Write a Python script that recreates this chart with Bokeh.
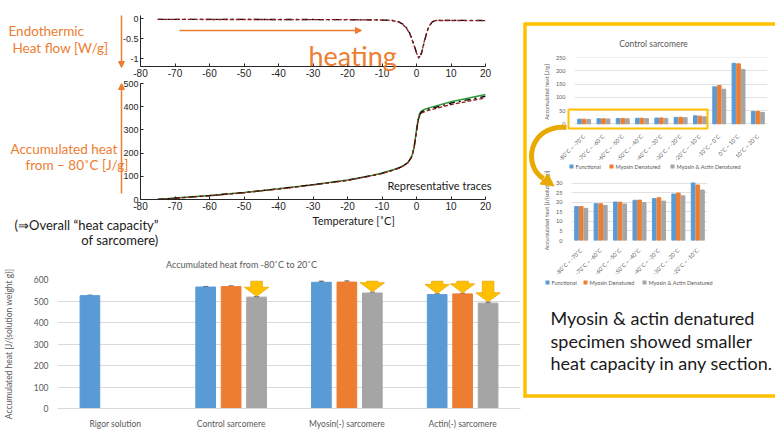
import math
from bokeh.plotting import figure
from bokeh.models import (Range1d, FixedTicker, Arrow, NormalHead, ColumnDataSource,
                          Whisker, TeeHead, GridBox)
from bokeh.core.properties import value
from bokeh.embed import file_html
from bokeh.resources import INLINE

# ---------------- data ----------------
temp_ticks = [-80, -70, -60, -50, -40, -30, -20, -10, 0, 10, 20]
hf_ticks = [-1, -0.5, 0]
hf_tick_labels = ["-1", "-0.5", "0"]
acc_ticks = [0, 100, 200, 300, 400, 500]

hf_temp = [-75, -60, -45, -30, -20, -12, -9, -7, -5, -4, -3, -2, -1, 0, 0.7, 1.5, 2.5, 3.5, 4.5, 5.5, 7, 12, 20]
hf_black = [-0.02, -0.02, -0.025, -0.025, -0.03, -0.035, -0.04, -0.05, -0.09, -0.14, -0.22, -0.36, -0.58,
            -0.85, -1.0, -0.86, -0.5, -0.22, -0.09, -0.05, -0.045, -0.045, -0.05]
hf_red = [-0.02, -0.025, -0.025, -0.03, -0.03, -0.035, -0.04, -0.05, -0.09, -0.15, -0.23, -0.37, -0.6,
          -0.86, -0.99, -0.84, -0.48, -0.21, -0.09, -0.05, -0.05, -0.05, -0.055]

acc_temp = [-75, -70, -60, -50, -40, -30, -20, -13, -10, -7, -5, -3.6, -2.5, -1.7, -1.2, -0.7, 0,
            0.4, 0.8, 1.2, 1.7, 2.5, 3.6, 10, 20]
acc_green = [0, 6, 17, 30, 46, 64, 84, 104, 114, 127, 137, 148, 160, 177, 195, 226, 300,
             340, 366, 378, 384, 389, 395, 421, 453]
acc_black = [0, 6, 17, 30, 46, 64, 83, 103, 113, 126, 136, 147, 159, 176, 193, 223, 296,
             336, 361, 373, 379, 384, 390, 415, 445]
acc_red = [0, 5, 16, 29, 45, 63, 82, 102, 112, 125, 135, 146, 158, 175, 191, 220, 292,
           331, 356, 368, 374, 379, 385, 409, 438]

groups = ["Rigor solution", "Control sarcomere", "Myosin(-) sarcomere", "Actin(-) sarcomere"]
series_names = ["Functional", "Myosin Denatured", "Myosin & Actin Denatured"]
acc_functional = [525, 565, 587, 530]
acc_myosin_den = [None, 567, 588, 533]
acc_both_den = [None, 518, 537, 490]
err_functional = [2, 2, 5, 3]
err_myosin_den = [None, 3, 5, 3]
err_both_den = [None, 2, 4, 4]
decreased = [(1, 2), (2, 2), (3, 0), (3, 1), (3, 2)]
bar_ticks = [0, 100, 200, 300, 400, 500, 600]

sections = ["-80˚C ~ -70˚C", "-70˚C ~ -60˚C", "-60˚C ~ -50˚C", "-50˚C ~ -40˚C", "-40˚C ~ -30˚C",
            "-30˚C ~ -20˚C", "-20˚C ~ -10˚C", "-10˚C ~ 0˚C", "0˚C ~ 10˚C", "10˚C ~ 20˚C"]
sec_functional = [17.8, 19.3, 20.2, 21.1, 22.0, 24.4, 30.2, 140, 229, 47]
sec_myosin_den = [17.8, 19.3, 20.1, 21.2, 22.5, 24.9, 29.1, 145, 227, 47]
sec_both_den = [16.9, 18.4, 19.2, 19.9, 20.7, 23.5, 26.5, 131, 206, 43.5]
sec_ticks = [0, 50, 100, 150, 200, 250]
zoom_ticks = [0, 5, 10, 15, 20, 25, 30]
n_zoom = 7

# ---------------- style ----------------
ORANGE_T = "#ED7D31"
BLUE, ORANGE, GRAY = "#5B9BD5", "#ED7D31", "#A5A5A5"
GOLD, GOLD_D = "#FFC000", "#E8A900"
TXT, GRID = "#595959", "#D9D9D9"
INK = "#1A1A1A"
LATO, ARIAL = "Lato", "Liberation Sans"


def chart(box, frame, xr, yr):
    """box/frame are (x0, y0, x1, y1) in page pixels; borders derived from them."""
    bx0, by0, bx1, by1 = box
    fx0, fy0, fx1, fy1 = frame
    p = figure(width=bx1 - bx0, height=by1 - by0, x_range=Range1d(*xr), y_range=Range1d(*yr),
               min_border_left=fx0 - bx0, min_border_right=bx1 - fx1,
               min_border_top=fy0 - by0, min_border_bottom=by1 - fy1,
               output_backend="svg", toolbar_location=None,
               background_fill_color=None, border_fill_color=None)
    p.outline_line_color = None
    return p


def matlab(p, yt, ylabels):
    p.grid.grid_line_color = None
    for ax in (p.xaxis, p.yaxis):
        ax.major_tick_in = 3
        ax.major_tick_out = 0
        ax.minor_tick_line_color = None
        ax.axis_line_color = "#262626"
        ax.major_tick_line_color = "#262626"
        ax.major_label_text_font = ARIAL
        ax.major_label_text_color = "#262626"
        ax.major_label_standoff = 2
    p.xaxis.major_label_text_font_size = "10px"
    p.yaxis.major_label_text_font_size = "9px"
    p.xaxis.ticker = FixedTicker(ticks=temp_ticks)
    p.xaxis.major_label_overrides = {t: str(t) for t in temp_ticks}
    p.yaxis.ticker = FixedTicker(ticks=yt)
    p.yaxis.major_label_overrides = dict(zip(yt, ylabels))


# ---------------- heat flow (top) ----------------
BOX_A, FRAME_A = (100, 0, 515, 82), (140, 15, 485, 66)
pA = chart(BOX_A, FRAME_A, (-80, 20), (-1.2, 0.075))
matlab(pA, hf_ticks, hf_tick_labels)
pA.line(hf_temp, hf_black, line_color="black", line_width=1.3, line_dash="dashdot")
pA.line(hf_temp, hf_red, line_color="#8B1A1A", line_width=1.3, line_dash="4 2")

# ---------------- accumulated heat (middle) ----------------
BOX_B, FRAME_B = (100, 74, 515, 215), (140, 83, 485, 199)
pB = chart(BOX_B, FRAME_B, (-80, 20), (0, 500))
matlab(pB, acc_ticks, [str(t) for t in acc_ticks])
pB.line(acc_temp, acc_green, line_color="#2E9B3A", line_width=1.5)
pB.line(acc_temp, acc_black, line_color="black", line_width=1.3, line_dash="dashdot")
pB.line(acc_temp, acc_red, line_color="#8B1A1A", line_width=1.3, line_dash="4 2")

# ---------------- bar chart (bottom left) ----------------
BOX_C, FRAME_C = (0, 250, 522, 434), (45, 279, 520, 408)
pC = chart(BOX_C, FRAME_C, (-0.5, 3.5), (0, 600))
offsets = [-0.22, 0.0, 0.22]
series_vals = [acc_functional, acc_myosin_den, acc_both_den]
series_errs = [err_functional, err_myosin_den, err_both_den]
colors = [BLUE, ORANGE, GRAY]
for k in range(3):
    xs = [i + offsets[k] for i, v in enumerate(series_vals[k]) if v is not None]
    ys = [v for v in series_vals[k] if v is not None]
    es = [e for e in series_errs[k] if e is not None]
    pC.vbar(x=xs, top=ys, width=0.17, color=colors[k])
    src = ColumnDataSource(dict(x=xs, up=[y + e for y, e in zip(ys, es)], lo=[y - e for y, e in zip(ys, es)]))
    pC.add_layout(Whisker(source=src, base="x", upper="up", lower="lo", line_color="#404040", line_width=1,
                          upper_head=TeeHead(size=5, line_color="#404040", line_width=1),
                          lower_head=TeeHead(size=5, line_color="#404040", line_width=1)))
ARROW_TOP, HEAD_H, SHAFT_HW, HEAD_HW = 592, 42, 0.05, 0.105
axs, ays = [], []
for gi, si in decreased:
    cx = gi + offsets[si]
    tip = series_vals[si][gi] + series_errs[si][gi] + 2
    hb = tip + HEAD_H
    axs.append([cx - SHAFT_HW, cx + SHAFT_HW, cx + SHAFT_HW, cx + HEAD_HW, cx, cx - HEAD_HW, cx - SHAFT_HW])
    ays.append([ARROW_TOP, ARROW_TOP, hb, hb, tip, hb, hb])
pC.patches(axs, ays, fill_color=GOLD, line_color=GOLD_D, line_width=0.8)
pC.xgrid.grid_line_color = None
pC.ygrid.grid_line_color = GRID
pC.yaxis.ticker = FixedTicker(ticks=bar_ticks)
pC.xaxis.ticker = FixedTicker(ticks=list(range(len(groups))))
pC.xaxis.major_label_overrides = {i: g for i, g in enumerate(groups)}
for ax in (pC.xaxis, pC.yaxis):
    ax.major_tick_line_color = None
    ax.minor_tick_line_color = None
    ax.major_label_text_font = LATO
    ax.major_label_text_font_size = "8.5px"
    ax.major_label_text_color = TXT
pC.yaxis.axis_line_color = None
pC.xaxis.axis_line_color = GRID
pC.yaxis.major_label_standoff = 3
pC.xaxis.major_label_standoff = 4
pC.yaxis.axis_label = "Accumulated heat [J/(solution weight g)]"
pC.yaxis.axis_label_text_font = LATO
pC.yaxis.axis_label_text_font_size = "8.5px"
pC.yaxis.axis_label_text_font_style = "normal"
pC.yaxis.axis_label_text_color = TXT
pC.yaxis.axis_label_standoff = 17


# ---------------- right panel charts ----------------
def small_chart(p, cats, vals, yticks, ylabel):
    offs = [-0.24, 0.0, 0.24]
    for k in range(3):
        xs = [i + offs[k] for i in range(len(cats))]
        p.vbar(x=xs, top=vals[k], width=0.19, color=colors[k])
    p.xgrid.grid_line_color = None
    p.ygrid.grid_line_color = GRID
    p.ygrid.grid_line_width = 0.8
    p.yaxis.ticker = FixedTicker(ticks=yticks)
    p.xaxis.ticker = FixedTicker(ticks=list(range(len(cats))))
    p.xaxis.major_label_overrides = {i: c for i, c in enumerate(cats)}
    p.xaxis.major_label_orientation = math.pi / 4
    for ax in (p.xaxis, p.yaxis):
        ax.axis_line_color = None
        ax.major_tick_line_color = None
        ax.minor_tick_line_color = None
        ax.major_label_text_font = LATO
        ax.major_label_text_font_size = "5.5px"
        ax.major_label_text_color = TXT
        ax.major_label_standoff = 3
    p.yaxis.axis_label = ylabel
    p.yaxis.axis_label_text_font = LATO
    p.yaxis.axis_label_text_font_size = "5.5px"
    p.yaxis.axis_label_text_font_style = "normal"
    p.yaxis.axis_label_text_color = TXT
    p.yaxis.axis_label_standoff = 3


BOX_R1, FRAME_R1 = (540, 50, 768, 175), (567, 57, 767, 126)
pR1 = chart(BOX_R1, FRAME_R1, (-0.5, 9.5), (-10, 251))
small_chart(pR1, sections, [sec_functional, sec_myosin_den, sec_both_den], sec_ticks, "Accumulated heat [J/g]")

BOX_R2, FRAME_R2 = (541, 158, 767, 292), (567, 180, 707, 240)
pR2 = chart(BOX_R2, FRAME_R2, (-0.5, 6.5), (0, 31.5))
small_chart(pR2, sections[:n_zoom],
            [sec_functional[:n_zoom], sec_myosin_den[:n_zoom], sec_both_den[:n_zoom]], zoom_ticks,
            "Accumulated heat [J/(solution g)]")

# ---------------- transparent overlay in page pixels (texts, arrows, frames) ----------------
BOX_OV = (1, 1, 775, 433)
ov = figure(width=BOX_OV[2] - BOX_OV[0], height=BOX_OV[3] - BOX_OV[1],
            x_range=Range1d(BOX_OV[0], BOX_OV[2]), y_range=Range1d(BOX_OV[3], BOX_OV[1]),
            min_border=0, x_axis_location=None, y_axis_location=None, output_backend="svg",
            toolbar_location=None, background_fill_color=None, border_fill_color=None)
ov.outline_line_color = None
ov.grid.grid_line_color = None


def T(x, y, s, size, color, font=LATO, align="left", baseline="middle"):
    ov.text(x=[x], y=[y], text=[s], text_font=value(font), text_font_size=f"{size}px",
            text_color=color, text_align=align, text_baseline=baseline)


def arrow(x0, y0, x1, y1, color, width, size):
    ov.add_layout(Arrow(end=NormalHead(size=size, fill_color=color, line_color=color),
                        x_start=x0, y_start=y0, x_end=x1, y_end=y1, line_color=color, line_width=width))


def legend_row(x, y, gap):
    widths = [25, 46, 64]  # approx. label widths at 5.5px
    for name, color, w in zip(series_names, colors, widths):
        ov.rect(x=[x + 2], y=[y], width=4, height=4, fill_color=color, line_color=None)
        T(x + 6, y, name, 5.5, TXT)
        x += 6 + w + gap


# left annotations
T(8, 30, "Endothermic", 13.5, ORANGE_T)
T(12, 47, "Heat flow [W/g]", 13.5, ORANGE_T)
arrow(121, 15, 121, 67, ORANGE_T, 1.5, 6)
T(10, 148, "Accumulated heat", 13.5, ORANGE_T)
T(25, 164, "from – 80˚C  [J/g]", 13.5, ORANGE_T)
arrow(121, 193, 121, 83, ORANGE_T, 1.5, 6)
T(308, 55, "heating", 27, ORANGE_T, baseline="alphabetic")
arrow(179, 30, 361, 30, ORANGE_T, 1.5, 6)
T(387, 185, "Representative traces", 11, INK)
T(312, 220, "Temperature [˚C]", 11, INK)
T(158, 224, "(⇒Overall “heat capacity”", 13, INK, align="right")
T(158, 239, "of sarcomere)", 13, INK, align="right")
T(241, 264, "Accumulated heat from -80˚C to 20˚C", 9, TXT, align="center")

# right panel frame and annotations
ov.line(x=[524.5, 775], y=[23.5, 23.5], line_color=GOLD, line_width=3.5)
ov.line(x=[524.5, 524.5], y=[22, 397], line_color=GOLD, line_width=3.5)
ov.line(x=[523, 775], y=[395.5, 395.5], line_color=GOLD, line_width=3.5)
T(653, 43, "Control sarcomere", 8.5, TXT, align="center")
legend_row(569, 166, 9)
legend_row(545, 282, 7)
ov.line(x=[568, 707, 707, 568, 568], y=[109, 109, 128, 128, 109], line_color=GOLD, line_width=2)
ov.bezier(x0=[566], y0=[127], x1=[543], y1=[178], cx0=[528], cy0=[124], cx1=[522], cy1=[166],
          line_color=GOLD_D, line_width=5)
ov.patch(x=[539.5, 547.5, 553.5], y=[183.5, 173.5, 185.5], fill_color=GOLD_D, line_color=GOLD_D)
msg = ["Myosin & actin denatured", "specimen showed smaller", "heat capacity in any section."]
for yy, s in zip([317, 340, 362], msg):
    T(550, yy, s, 18, INK)

# ---------------- grid placement ----------------
boxes = [(pA, BOX_A), (pB, BOX_B), (pC, BOX_C), (pR1, BOX_R1), (pR2, BOX_R2), (ov, BOX_OV)]
xb = sorted({b[0] for _, b in boxes} | {b[2] for _, b in boxes} | {0, 775})
yb = sorted({b[1] for _, b in boxes} | {b[3] for _, b in boxes} | {0, 434})
children = []
for p, (x0, y0, x1, y1) in boxes:
    r0, r1 = yb.index(y0), yb.index(y1)
    c0, c1 = xb.index(x0), xb.index(x1)
    children.append((p, r0, c0, r1 - r0, c1 - c0))
grid = GridBox(children=children,
               rows=[f"{b - a}px" for a, b in zip(yb, yb[1:])],
               cols=[f"{b - a}px" for a, b in zip(xb, xb[1:])],
               spacing=0)

open("out.html", "w").write(file_html(grid, INLINE))
